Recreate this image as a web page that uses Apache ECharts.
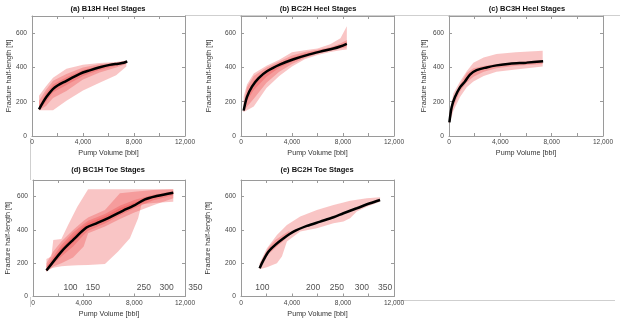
<!DOCTYPE html>
<html>
<head>
<meta charset="utf-8">
<script src="https://cdn.jsdelivr.net/npm/echarts@6/dist/echarts.min.js"></script>
<style>html,body{margin:0;padding:0;background:#fff}#c{width:620px;height:324px}</style>
</head>
<body>
<div id="c"></div>
<script>
// ---------- titles / ticks ----------
const panelTitles = ['(a) B13H Heel Stages', '(b) BC2H Heel Stages', '(c) BC3H Heel Stages', '(d) BC1H Toe Stages', '(e) BC2H Toe Stages'];
const xAxisName = 'Pump Volume [bbl]';
const yAxisName = 'Fracture half-length [ft]';
const xMin = 0, xMax = 12000, xStep = 2000, xLabelStep = 4000;
const yMin = 0, yMax = 700, yStep = 200;

// ---------- (a) B13H Heel ----------
const aMeanX = [550, 1127, 1780, 2700, 3750, 4530, 5320, 6100, 6760, 7200, 7470];
const aMeanY = [155, 227, 283, 322, 363, 383, 401, 415, 422, 427, 435];
const aBandX = [550, 1100, 1650, 2700, 4000, 5300, 6600, 7400];
const aBand1Hi = [235, 290, 340, 392, 415, 426, 432, 440];
const aBand1Lo = [150, 150, 150, 205, 265, 310, 355, 405];
const aBand2Hi = [205, 270, 322, 362, 400, 418, 428, 438];
const aBand2Lo = [150, 175, 222, 262, 330, 370, 400, 420];
const aBand3Hi = [175, 250, 300, 342, 385, 408, 424, 437];
const aBand3Lo = [150, 200, 255, 298, 350, 385, 410, 428];

// ---------- (b) BC2H Heel ----------
const bMeanX = [209, 470, 861, 1383, 2035, 3079, 4122, 5166, 6210, 7253, 7775, 8297];
const bMeanY = [148, 228, 288, 338, 378, 418, 448, 472, 492, 510, 522, 538];
const bBandX = [209, 470, 1000, 2000, 3000, 4000, 5000, 6000, 7000, 7800, 8300];
const bBand1Hi = [230, 300, 365, 410, 445, 488, 500, 510, 535, 570, 640];
const bBand1Lo = [140, 150, 172, 280, 350, 405, 448, 472, 490, 500, 505];
const bBand2Hi = [190, 285, 350, 400, 435, 470, 490, 503, 518, 540, 560];
const bBand2Lo = [140, 170, 218, 310, 375, 420, 455, 480, 497, 510, 518];
const bBand3Hi = [165, 250, 322, 385, 425, 456, 480, 497, 513, 530, 548];
const bBand3Lo = [142, 205, 268, 345, 398, 433, 463, 486, 504, 517, 530];

// ---------- (c) BC3H Heel ----------
const cMeanX = [30, 207, 466, 855, 1244, 1633, 2152, 2929, 3707, 4743, 6040, 7335];
const cMeanY = [80, 168, 228, 284, 318, 358, 384, 400, 412, 422, 428, 436];
const cBandX = [30, 340, 860, 1380, 1900, 2700, 3700, 5200, 7300];
const cBand1Hi = [128, 248, 318, 378, 428, 458, 478, 488, 498];
const cBand1Lo = [68, 148, 228, 284, 318, 350, 375, 388, 405];
const cBand2Hi = [100, 215, 300, 368, 395, 408, 420, 430, 442];
const cBand2Lo = [75, 170, 260, 312, 345, 375, 395, 410, 420];

// ---------- (d) BC1H Toe ----------
const dMeanX = [1060, 2245, 3165, 4220, 5015, 6065, 7120, 7910, 8835, 9760, 11075];
const dMeanY = [156, 270, 340, 414, 440, 476, 516, 544, 584, 604, 624];
const dBand1X = [1060, 1450, 1600, 2240, 2770, 3500, 4350, 5680, 6720, 7650, 8300, 8570, 9500, 11075];
const dBand1Hi = [225, 240, 340, 345, 430, 540, 645, 645, 645, 645, 645, 645, 645, 645];
const dBand1Lo = [150, 168, 172, 182, 185, 188, 190, 195, 270, 350, 470, 555, 562, 570];
const dBandX = [1060, 1600, 2240, 3165, 4000, 4350, 5680, 6860, 8000, 9500, 11075];
const dBand2Hi = [200, 270, 330, 400, 455, 475, 520, 620, 630, 640, 645];
const dBand2Lo = [150, 180, 200, 235, 300, 380, 420, 465, 505, 548, 590];
const dBand3Hi = [180, 240, 310, 385, 435, 455, 495, 545, 580, 612, 632];
const dBand3Lo = [150, 195, 240, 300, 370, 395, 438, 488, 530, 578, 608];
const dBand4Hi = [165, 225, 292, 365, 422, 442, 482, 530, 565, 603, 628];
const dBand4Lo = [150, 210, 262, 325, 395, 415, 452, 502, 545, 592, 618];
const dStageLabels = ['100', '150', '250', '300', '350'];
const dStageX = [2960, 4720, 8760, 10550, 12820];

// ---------- (e) BC2H Toe ----------
const eMeanX = [1461, 1774, 2165, 2687, 3340, 4122, 5166, 6210, 7253, 8036, 9080, 10125, 10908];
const eMeanY = [170, 220, 270, 310, 350, 390, 424, 450, 476, 500, 530, 560, 580];
const eBand1X = [1461, 2035, 2817, 3209, 3600, 4644, 5949, 7253, 8036, 8558, 9080, 9862, 10908];
const eBand1Hi = [200, 290, 370, 400, 430, 480, 520, 550, 565, 576, 582, 590, 596];
const eBand1Lo = [164, 176, 200, 240, 330, 390, 410, 440, 450, 470, 510, 540, 570];
const eBand2X = [1461, 1774, 2165, 2687, 3340, 3800];
const eBand2Hi = [180, 240, 295, 340, 372, 395];
const eBand2Lo = [165, 210, 255, 292, 335, 370];
const eStageLabels = ['100', '200', '250', '300', '350'];
const eStageX = [1670, 5660, 7520, 9475, 11300];
const stageLabelY = 52;

// ---------- layout / style ----------
const FONT = 'Liberation Sans, Arial, sans-serif';
const grids = [
  {left: 32, top: 16, width: 153, height: 120},
  {left: 241, top: 16, width: 153, height: 120},
  {left: 449, top: 16, width: 154, height: 120},
  {left: 33, top: 180, width: 152, height: 116.5},
  {left: 241, top: 180, width: 153, height: 116.5}
];
const yNameGaps = [19.5, 28, 21, 21.5, 29];
const xNameGaps = [13.5, 13.5, 13.5, 14.5, 14.5];
const xLabelMargins = [2.5, 2.5, 2.5, 3.5, 3.5];
const titlePos = [[108, 9], [318, 9], [527, 9], [108, 170], [317, 170]];
const BAND = 'rgba(236,62,62,0.3)';
const AXC = '#9a9a9a';

function commas(v) { return String(v).replace(/\B(?=(\d{3})+(?!\d))/g, ','); }

const xAxes = [], yAxes = [], series = [];
grids.forEach((g, i) => {
  const common = {gridIndex: i, type: 'value', splitLine: {show: false},
    axisLine: {show: true, onZero: false, lineStyle: {color: AXC, width: 1}},
    axisTick: {show: true, inside: true, length: 3, lineStyle: {color: AXC}}};
  xAxes.push(Object.assign({}, common, {position: 'bottom', min: xMin, max: xMax, interval: xStep,
    name: xAxisName, nameLocation: 'middle', nameGap: xNameGaps[i],
    nameTextStyle: {fontSize: 7.2, color: '#333', fontFamily: FONT},
    axisLabel: {fontSize: 6.6, color: '#444', fontFamily: FONT, margin: xLabelMargins[i],
      formatter: v => (v % xLabelStep === 0 ? commas(v) : '')}}));
  xAxes.push(Object.assign({}, common, {position: 'top', min: xMin, max: xMax, interval: xStep,
    axisLabel: {show: false}}));
  yAxes.push(Object.assign({}, common, {position: 'left', min: yMin, max: yMax, interval: yStep,
    name: yAxisName, nameLocation: 'middle', nameGap: yNameGaps[i],
    nameTextStyle: {fontSize: 7.2, color: '#333', fontFamily: FONT},
    axisLabel: {fontSize: 6.6, color: '#444', fontFamily: FONT, margin: 5,
      formatter: v => (v % yStep === 0 ? String(v) : '')}}));
  yAxes.push(Object.assign({}, common, {position: 'right', min: yMin, max: yMax, interval: yStep,
    axisLabel: {show: false}}));
});

function band(gi, xs, lo, hi) {
  return {
    type: 'custom', xAxisIndex: gi * 2, yAxisIndex: gi * 2, silent: true, z: 1,
    data: xs.map((x, k) => [x, lo[k], hi[k]]),
    encode: {x: 0, y: [1, 2]},
    renderItem: function (params, api) {
      if (params.dataIndex !== 0) return null;
      const pts = [];
      for (let k = 0; k < xs.length; k++) pts.push(api.coord([xs[k], hi[k]]));
      for (let k = xs.length - 1; k >= 0; k--) pts.push(api.coord([xs[k], lo[k]]));
      return {type: 'polygon', shape: {points: pts}, style: {fill: BAND}};
    }
  };
}
function meanLine(gi, xs, ys) {
  return {type: 'line', xAxisIndex: gi * 2, yAxisIndex: gi * 2, z: 5, silent: true,
    showSymbol: false, smooth: 0.3, data: xs.map((x, k) => [x, ys[k]]),
    lineStyle: {color: '#000', width: 2.5}};
}
function stageLabels(gi, names, xs) {
  return {type: 'scatter', xAxisIndex: gi * 2, yAxisIndex: gi * 2, z: 6, silent: true, clip: false,
    symbolSize: 1, itemStyle: {color: 'rgba(0,0,0,0)'},
    data: names.map((n, k) => ({name: n, value: [xs[k], stageLabelY]})),
    label: {show: true, position: 'inside', formatter: p => p.name, fontSize: 8.5, color: '#222', fontFamily: FONT}};
}

series.push(band(0, aBandX, aBand1Lo, aBand1Hi), band(0, aBandX, aBand2Lo, aBand2Hi), band(0, aBandX, aBand3Lo, aBand3Hi), meanLine(0, aMeanX, aMeanY));
series.push(band(1, bBandX, bBand1Lo, bBand1Hi), band(1, bBandX, bBand2Lo, bBand2Hi), band(1, bBandX, bBand3Lo, bBand3Hi), meanLine(1, bMeanX, bMeanY));
series.push(band(2, cBandX, cBand1Lo, cBand1Hi), band(2, cBandX, cBand2Lo, cBand2Hi), meanLine(2, cMeanX, cMeanY));
series.push(band(3, dBand1X, dBand1Lo, dBand1Hi), band(3, dBandX, dBand2Lo, dBand2Hi), band(3, dBandX, dBand3Lo, dBand3Hi), band(3, dBandX, dBand4Lo, dBand4Hi), meanLine(3, dMeanX, dMeanY), stageLabels(3, dStageLabels, dStageX));
series.push(band(4, eBand1X, eBand1Lo, eBand1Hi), band(4, eBand2X, eBand2Lo, eBand2Hi), meanLine(4, eMeanX, eMeanY), stageLabels(4, eStageLabels, eStageX));

const graphic = panelTitles.map((t, i) => ({type: 'text', x: titlePos[i][0], y: titlePos[i][1], silent: true,
  style: {text: t, textAlign: 'center', textVerticalAlign: 'middle', font: 'bold 7.5px ' + FONT, fill: '#111'}}));
graphic.push(
  {type: 'line', shape: {x1: 185, y1: 15.5, x2: 620, y2: 15.5}, style: {stroke: '#cfcfcf', lineWidth: 1}, silent: true},
  {type: 'line', shape: {x1: 30.5, y1: 138, x2: 30.5, y2: 180}, style: {stroke: '#cfcfcf', lineWidth: 1}, silent: true},
  {type: 'line', shape: {x1: 30.5, y1: 297, x2: 30.5, y2: 307}, style: {stroke: '#cfcfcf', lineWidth: 1}, silent: true},
  {type: 'line', shape: {x1: 396, y1: 300.5, x2: 615, y2: 300.5}, style: {stroke: '#cfcfcf', lineWidth: 1}, silent: true}
);

const chart = echarts.init(document.getElementById('c'), null, {renderer: 'canvas'});
chart.setOption({
  animation: false,
  backgroundColor: '#fff',
  grid: grids,
  xAxis: xAxes,
  yAxis: yAxes,
  series: series,
  graphic: graphic
});
</script>
</body>
</html>
